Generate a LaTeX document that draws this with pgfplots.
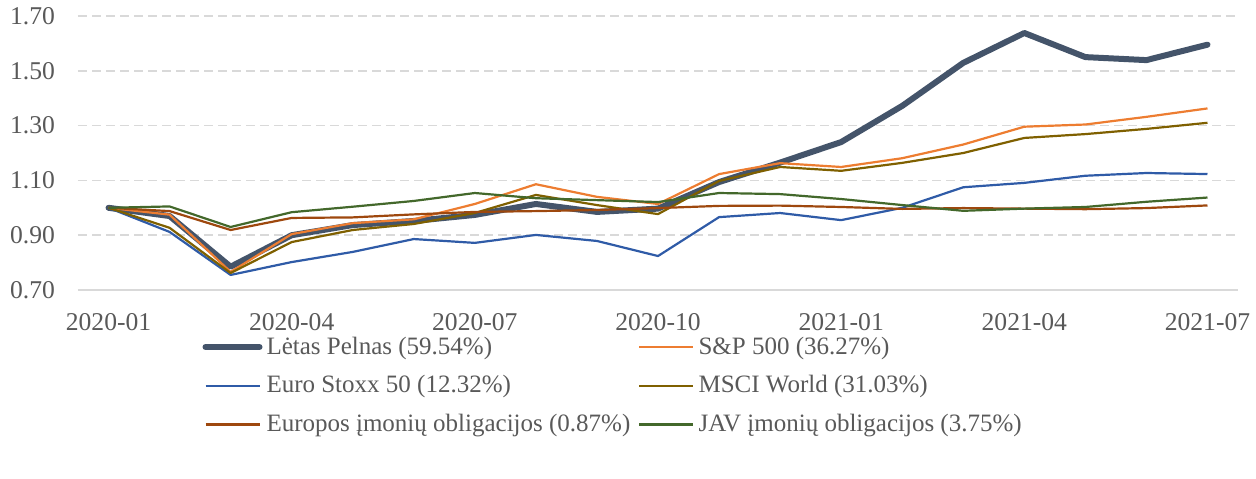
\documentclass[border=0pt]{standalone}
\usepackage{pgfplots}
\pgfplotsset{compat=1.18}
\usepackage{fontspec}
\setmainfont{Liberation Serif}
\definecolor{txt}{HTML}{595959}
\definecolor{grd}{HTML}{D9D9D9}
\definecolor{cLP}{HTML}{44546A}
\definecolor{cSP}{HTML}{ED7D31}
\definecolor{cES}{HTML}{2F5BA7}
\definecolor{cMS}{HTML}{7F6000}
\definecolor{cEU}{HTML}{9E480E}
\definecolor{cJA}{HTML}{43682B}
\begin{document}
\begin{tikzpicture}
\path[use as bounding box] (-39pt,-94pt) rectangle (589pt,145pt);
\begin{axis}[
  at={(0,0)}, anchor=south west,
  scale only axis, width=580pt, height=137pt,
  xmin=-0.5, xmax=18.5, ymin=0.7, ymax=1.7,
  axis y line*=left, axis x line*=bottom,
  y axis line style={draw=none},
  x axis line style={draw=grd, line width=0.8pt, -},
  ytick={0.7,0.9,1.1,1.3,1.5,1.7},
  xtick={0,3,6,9,12,15,18},
  xticklabels={2020-01,2020-04,2020-07,2020-10,2021-01,2021-04,2021-07},
  major tick length=0pt,
  ymajorgrids, grid style={draw=grd, line width=0.75pt, dash pattern=on 4.5pt off 2.5pt},
  ticklabel style={font=\fontsize{12.8}{15}\selectfont, text=txt},
  yticklabel style={xshift=-8pt, /pgf/number format/fixed, /pgf/number format/fixed zerofill, /pgf/number format/precision=2, /pgf/number format/assume math mode=true},
  xticklabel style={yshift=-8pt},
  legend columns=2,
  legend cell align=left,
  legend style={at={(0.107,-0.155)}, anchor=north west, draw=none, fill=none,
    font=\fontsize{12.5}{15}\selectfont, text=txt,
    /tikz/every even column/.append style={column sep=2pt},
    row sep=5.2pt, inner sep=0pt},
  legend image code/.code={\draw[#1] (0pt,0pt) -- (27pt,0pt);},
  clip=false,
]
\addplot[cLP, line width=3pt, line join=round, line cap=round] coordinates {
(0,1.000) (1,0.970) (2,0.785) (3,0.900) (4,0.937) (5,0.952) (6,0.974) (7,1.014) (8,0.985) (9,0.997)
(10,1.094) (11,1.165) (12,1.240) (13,1.372) (14,1.529) (15,1.638) (16,1.550) (17,1.539) (18,1.5954)};
\addlegendentry{Lėtas Pelnas (59.54\%)}
\addplot[cSP, line width=1.1pt, line join=round] coordinates {
(0,1.000) (1,0.975) (2,0.766) (3,0.904) (4,0.944) (5,0.958) (6,1.014) (7,1.086) (8,1.040) (9,1.014)
(10,1.123) (11,1.163) (12,1.149) (13,1.181) (14,1.231) (15,1.296) (16,1.304) (17,1.332) (18,1.3627)};
\addlegendentry{S\&P 500 (36.27\%)}
\addplot[cES, line width=1.1pt, line join=round] coordinates {
(0,1.000) (1,0.912) (2,0.755) (3,0.802) (4,0.839) (5,0.886) (6,0.872) (7,0.901) (8,0.879) (9,0.824)
(10,0.966) (11,0.981) (12,0.955) (13,1.000) (14,1.075) (15,1.091) (16,1.117) (17,1.127) (18,1.1232)};
\addlegendentry{Euro Stoxx 50 (12.32\%)}
\addplot[cMS, line width=1.1pt, line join=round] coordinates {
(0,1.000) (1,0.927) (2,0.762) (3,0.875) (4,0.919) (5,0.941) (6,0.981) (7,1.047) (8,1.010) (9,0.977)
(10,1.098) (11,1.149) (12,1.135) (13,1.164) (14,1.200) (15,1.255) (16,1.269) (17,1.288) (18,1.3103)};
\addlegendentry{MSCI World (31.03\%)}
\addplot[cEU, line width=1.1pt, line join=round] coordinates {
(0,1.000) (1,0.988) (2,0.919) (3,0.963) (4,0.965) (5,0.976) (6,0.985) (7,0.988) (8,0.992) (9,0.999)
(10,1.007) (11,1.008) (12,1.003) (13,0.996) (14,0.999) (15,0.997) (16,0.995) (17,0.999) (18,1.0087)};
\addlegendentry{Europos įmonių obligacijos (0.87\%)}
\addplot[cJA, line width=1.1pt, line join=round] coordinates {
(0,1.000) (1,1.005) (2,0.930) (3,0.984) (4,1.004) (5,1.025) (6,1.054) (7,1.035) (8,1.028) (9,1.021)
(10,1.054) (11,1.050) (12,1.032) (13,1.010) (14,0.989) (15,0.997) (16,1.003) (17,1.022) (18,1.0375)};
\addlegendentry{JAV įmonių obligacijos (3.75\%)}
\end{axis}
\end{tikzpicture}
\end{document}
